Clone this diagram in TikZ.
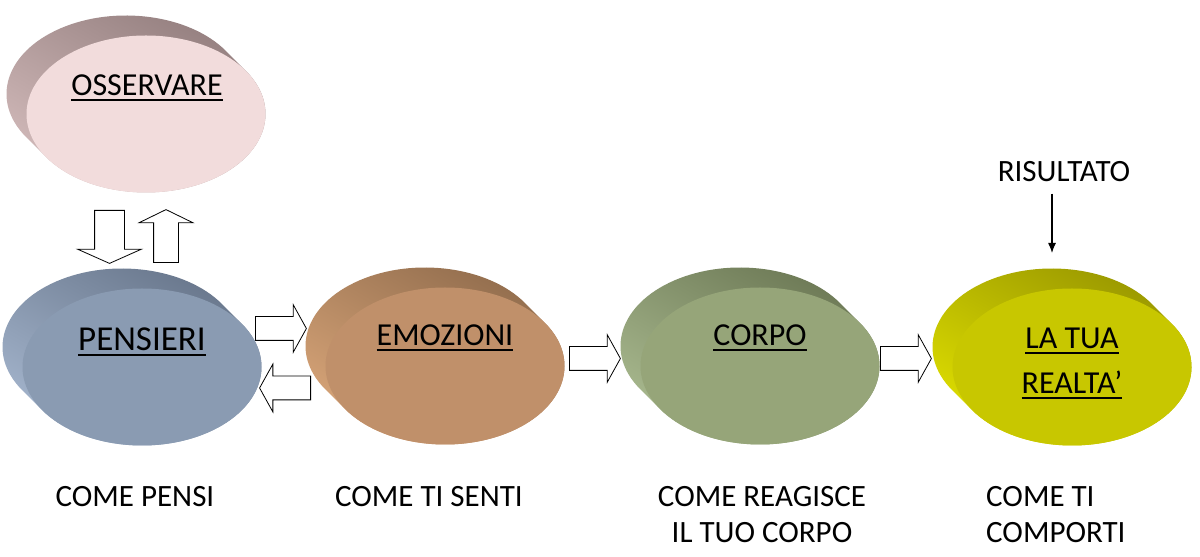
\documentclass[tikz,border=0pt]{standalone}
\usepackage{fontspec}
\setmainfont{Carlito}
\usetikzlibrary{shapes.geometric,shapes.arrows,arrows.meta,calc,backgrounds}

\definecolor{osseF}{HTML}{F2DCDC}
\definecolor{osseS}{HTML}{917C7C}
\definecolor{osseC}{HTML}{D6BEBE}
\definecolor{pensF}{HTML}{8A9BB2}
\definecolor{pensS}{HTML}{657388}
\definecolor{pensC}{HTML}{A8B9D1}
\definecolor{emozF}{HTML}{C0906A}
\definecolor{emozS}{HTML}{8E6A4B}
\definecolor{emozC}{HTML}{DCA87B}
\definecolor{corpF}{HTML}{96A579}
\definecolor{corpS}{HTML}{697552}
\definecolor{corpC}{HTML}{ADBE93}
\definecolor{realF}{HTML}{C8C700}
\definecolor{realS}{HTML}{969400}
\definecolor{realC}{HTML}{E2E200}

% sottolineatura spessa
\newcommand{\sott}[1]{\setbox0\hbox{#1}\rlap{\vrule height -3.5pt depth 5.5pt width \wd0}\box0}
% fianco dell'ellisse (spessore verso l'alto a sinistra)
\newcommand{\fianco}[3]{%
  \begin{scope}[on background layer]
    \shade[top color=#2, bottom color=#3, shading angle=-30]
      ($(#1.center)+(-20,20)+(33.3:119.5 and 78.5)$)
      arc[start angle=33.3, end angle=213.3, x radius=119.5, y radius=78.5]
      -- ++(20,-20)
      arc[start angle=213.3, end angle=393.3, x radius=119.5, y radius=78.5] -- cycle;
  \end{scope}}

\begin{document}
\begin{tikzpicture}[x=1pt, y=1pt,
    faccia/.style={ellipse, minimum width=239pt, minimum height=157pt, inner sep=0pt, outer sep=0pt},
    titolo/.style={font=\fontsize{32}{45}\selectfont, inner sep=0pt, anchor=north, align=center},
    didas/.style={font=\fontsize{31}{36}\selectfont, inner sep=0pt, anchor=north, align=center},
    blocco/.style={single arrow, draw=black, fill=white, line width=0.8pt, inner sep=11.5pt,
      single arrow head extend=12pt, single arrow tip angle=122, minimum height=51pt, anchor=tail},
    freccina/.style={-{Latex[length=10pt,width=8pt]}, line width=1.2pt}]
  \useasboundingbox (0,0) rectangle (1200,557);

  % ellissi
  \node[faccia, fill=osseF] (osse) at (146,443) {};
  \fianco{osse}{osseS}{osseC}
  \node[faccia, fill=pensF] (pens) at (142,190) {};
  \fianco{pens}{pensS}{pensC}
  \node[faccia, fill=emozF] (emoz) at (445,191) {};
  \fianco{emoz}{emozS}{emozC}
  \node[faccia, fill=corpF] (corp) at (760,191) {};
  \fianco{corp}{corpS}{corpC}
  \node[faccia, fill=realF] (real) at (1072,190) {};
  \fianco{real}{realS}{realC}

  % titoli
  \node[titolo] (t-osse) at (147,482) {\sott{OSSERVARE}};
  \node[titolo, font=\fontsize{35}{42}\selectfont] (t-pens) at (142,229) {\sott{PENSIERI}};
  \node[titolo] (t-emoz) at (445,232) {\sott{EMOZIONI}};
  \node[titolo] (t-corp) at (760,232) {\sott{CORPO}};
  \node[titolo] (t-real) at (1072,229) {\sott{LA TUA}\\\sott{REALTA’}};

  % frecce a blocco
  \node[blocco] (pe-em) at (255,228.5) {};
  \node[blocco, shape border rotate=180] (em-pe) at (311,169) {};
  \node[blocco] (em-co) at (569,198.5) {};
  \node[blocco] (co-re) at (880,198.5) {};
  \node[blocco, shape border rotate=270, inner sep=14.5pt, single arrow head extend=17pt,
    single arrow tip angle=132, minimum height=53pt] (os-pe) at (109.5,347) {};
  \node[blocco, shape border rotate=90, inner sep=12pt, single arrow head extend=14.5pt,
    single arrow tip angle=128, minimum height=53pt] (pe-os) at (166,294) {};

  % risultato
  \node[didas] (ris) at (1064,396) {RISULTATO};
  \coordinate (punta) at (1052,304);
  \draw[freccina] ($(punta |- ris.south)+(0,-12)$) -- (punta);

  % didascalie
  \node[didas] (d-pens) at (135,71) {COME PENSI};
  \node[didas] (d-emoz) at (429,71) {COME TI SENTI};
  \node[didas] (d-corp) at (762,71) {COME REAGISCE\\IL TUO CORPO};
  \node[didas, align=left, anchor=north west] (d-real) at (986,71) {COME TI\\COMPORTI};
\end{tikzpicture}
\end{document}
